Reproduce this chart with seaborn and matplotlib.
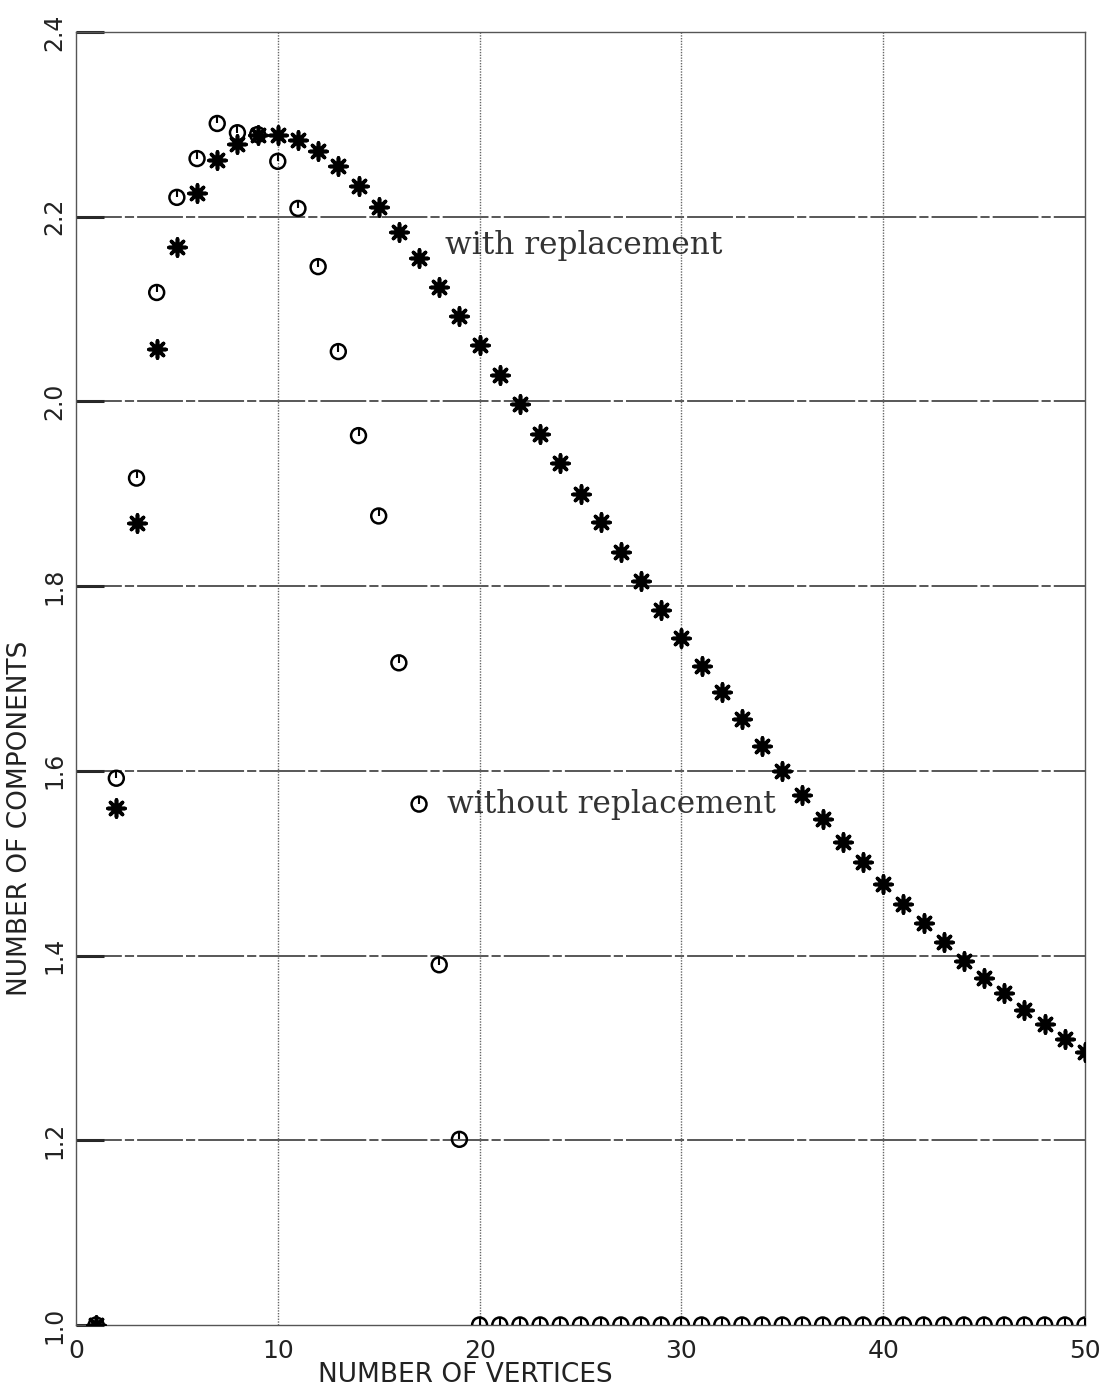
"""Number of components vs number of vertices, with / without replacement."""
import numpy as np
import pandas as pd
import matplotlib
matplotlib.use('Agg')
import matplotlib.pyplot as plt
import seaborn as sns

# x values: number of vertices 1..50
vertices = list(range(1, 51))

# with replacement (asterisks)
with_repl = [1.000, 1.560, 1.868, 2.057, 2.167, 2.226, 2.261, 2.279, 2.289, 2.289,
             2.283, 2.271, 2.255, 2.233, 2.211, 2.183, 2.155, 2.124, 2.093, 2.061,
             2.029, 1.997, 1.965, 1.933, 1.900, 1.869, 1.837, 1.806, 1.774, 1.744,
             1.714, 1.685, 1.656, 1.627, 1.600, 1.574, 1.548, 1.523, 1.501, 1.477,
             1.456, 1.435, 1.415, 1.394, 1.376, 1.359, 1.341, 1.326, 1.310, 1.296]

# without replacement (circles)
without_repl = [1.000, 1.592, 1.917, 2.118, 2.221, 2.263, 2.301, 2.291, 2.289, 2.260,
                2.209, 2.146, 2.054, 1.963, 1.876, 1.717, 1.564, 1.390, 1.201] + [1.0] * 31

x_ticks = [0, 10, 20, 30, 40, 50]
y_ticks = [1.0, 1.2, 1.4, 1.6, 1.8, 2.0, 2.2, 2.4]


def main():
    """Draw and save the figure."""
    sns.set_style('white')
    plt.rcParams['font.family'] = ['DejaVu Sans']

    df_w = pd.DataFrame({'n': vertices, 'c': with_repl})
    df_wo = pd.DataFrame({'n': vertices, 'c': without_repl})

    fig = plt.figure(figsize=(11.01, 14.0), dpi=100)
    ax = fig.add_axes([0.069, 0.0536, 0.9165, 0.9235])

    # grid
    for yv in y_ticks[1:-1]:
        ax.axhline(yv, color='#2a2a2a', lw=1.1, ls=(0, (30, 2, 6, 2)), zorder=1)
    for xv in x_ticks[1:-1]:
        ax.axvline(xv, color='#666666', lw=1.0, ls=(0, (1, 1)), zorder=1)

    # circles with the small inner tick
    sns.scatterplot(data=df_wo, x='n', y='c', ax=ax, marker='o', s=115,
                    facecolor='none', edgecolor='black', linewidth=1.8, zorder=3)
    sns.scatterplot(data=df_wo, x='n', y='c', ax=ax, marker=2, s=25,
                    color='black', linewidth=1.5, zorder=3)
    # asterisks
    sns.scatterplot(data=df_w, x='n', y='c', ax=ax, marker=(8, 2, 0), s=150,
                    color='black', linewidth=2.6, zorder=4)

    ax.set_xlim(0, 50)
    ax.set_ylim(1.0, 2.4)
    ax.set_xticks(x_ticks)
    ax.set_yticks(y_ticks)
    ax.set_xticklabels([str(v) for v in x_ticks], fontsize=18, color='#222222')
    ax.set_yticklabels([f'{v:.1f}' for v in y_ticks], fontsize=17, color='#222222',
                       rotation=90, va='center')
    ax.tick_params(axis='y', direction='in', length=20, width=2.2, pad=7, left=True)
    ax.tick_params(axis='x', direction='in', length=0, pad=10)

    for s in ax.spines.values():
        s.set_color('#555555')
        s.set_linewidth(1.0)
    ax.spines['left'].set_linestyle((0, (1, 1)))
    ax.spines['right'].set_linestyle((0, (1, 1)))

    ax.set_xlabel('')
    ax.set_ylabel('')
    fig.text(465 / 1101, 1 - 1375 / 1400, 'NUMBER OF VERTICES', fontsize=19,
             color='#222222', ha='center', va='center')
    fig.text(20 / 1101, 1 - 818 / 1400, 'NUMBER OF COMPONENTS', fontsize=19,
             color='#222222', ha='center', va='center', rotation=90)

    ax.text(18.3, 2.169, 'with replacement', fontsize=22.5, family='DejaVu Serif',
            color='#333333', ha='left', va='center')
    ax.text(18.4, 1.564, 'without replacement', fontsize=22.5, family='DejaVu Serif',
            color='#333333', ha='left', va='center')

    fig.savefig('out.png', dpi=100)
    plt.close(fig)


if __name__ == '__main__':
    main()
